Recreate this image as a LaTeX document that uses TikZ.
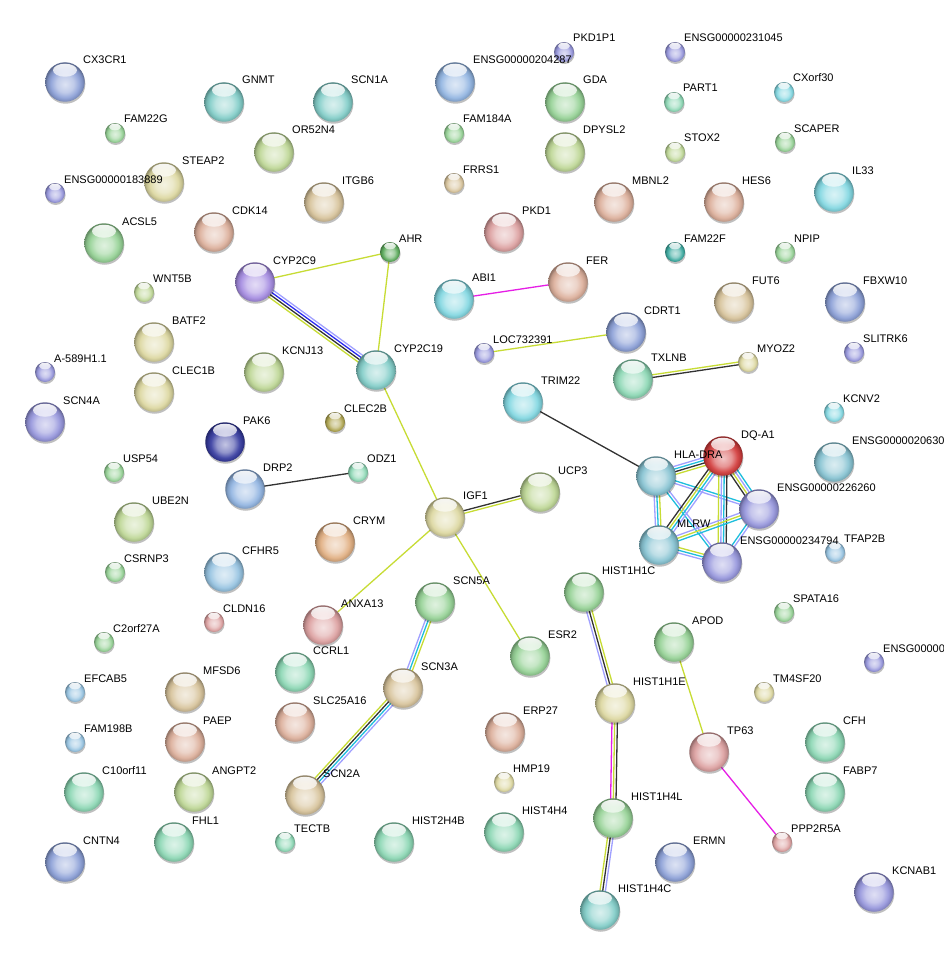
\documentclass[tikz,border=0pt]{standalone}
\usepackage{fontspec}
\setmainfont{Liberation Sans}
\usetikzlibrary{calc,shadows,fadings}
\pgfdeclarelayer{bottom}
\pgfdeclarelayer{background}
\pgfdeclarelayer{labels}
\pgfsetlayers{bottom,background,main,labels}
\makeatletter
\pgfdeclareradialshading[tikz@ball]{sball}{\pgfpoint{0bp}{-3bp}}{%
 color(0bp)=(tikz@ball!30!white); color(11bp)=(tikz@ball!55!white);
 color(18bp)=(tikz@ball!92!white); color(22.5bp)=(tikz@ball!88!black);
 color(25bp)=(tikz@ball!68!black); color(50bp)=(tikz@ball!68!black)}
\makeatother
\tikzfading[name=hlfade, top color=transparent!5, bottom color=transparent!100]
% node colours
\definecolor{cblue}{RGB}{140,160,215}
\definecolor{cblue2}{RGB}{145,180,225}
\definecolor{cteal}{RGB}{130,205,200}
\definecolor{ccyan}{RGB}{130,215,225}
\definecolor{csteel}{RGB}{135,195,210}
\definecolor{cpb}{RGB}{150,150,220}
\definecolor{cpurple}{RGB}{165,140,225}
\definecolor{cnavy}{RGB}{55,60,160}
\definecolor{cgreen}{RGB}{150,210,150}
\definecolor{cmint}{RGB}{140,215,180}
\definecolor{cyg}{RGB}{190,215,150}
\definecolor{cyel}{RGB}{220,215,160}
\definecolor{colive}{RGB}{175,165,80}
\definecolor{ctan}{RGB}{215,195,155}
\definecolor{csalmon}{RGB}{220,175,155}
\definecolor{corange}{RGB}{225,175,130}
\definecolor{cpink}{RGB}{220,160,160}
\definecolor{cred}{RGB}{210,60,60}
\definecolor{cdteal}{RGB}{60,170,160}
\definecolor{csky}{RGB}{150,195,225}
\definecolor{cdgreen}{RGB}{90,170,90}
% edge colours
\definecolor{ctm}{RGB}{199,220,52}
\definecolor{ccoexp}{RGB}{50,50,50}
\definecolor{cdb}{RGB}{30,190,220}
\definecolor{chom}{RGB}{160,160,255}
\definecolor{ccooc}{RGB}{40,40,240}
\definecolor{cexp}{RGB}{230,30,230}
\tikzset{
 sphere/.style={circle, inner sep=0pt, draw=none,
   drop shadow={shadow xshift=0.6pt, shadow yshift=-2pt, opacity=0.25, fill=black}},
 bigsphere/.style={sphere, minimum size=39.5pt, ball color=#1, shading=sball,
   path picture={\fill[white, path fading=hlfade] ([yshift=-8pt]path picture bounding box.north) ellipse [x radius=12pt, y radius=6.5pt];}},
 smallsphere/.style={sphere, minimum size=20pt, ball color=#1, shading=sball,
   path picture={\fill[white, path fading=hlfade] ([yshift=-4pt]path picture bounding box.north) ellipse [x radius=6pt, y radius=3.3pt];}},
 lbl/.style={anchor=base west, inner sep=0pt, font=\fontsize{11}{13}\selectfont, text=black},
 etm/.style={draw=ctm, line width=1.3pt},
 ecoexp/.style={draw=ccoexp, line width=1.3pt},
 edb/.style={draw=cdb, line width=1.3pt},
 ehom/.style={draw=chom, line width=1.3pt},
 ecooc/.style={draw=ccooc, line width=1.3pt},
 eexp/.style={draw=cexp, line width=1.3pt},
}
\newcommand\BNode[5]{%
  \node[bigsphere=#4] (#1) at (#2,#3) {};
  \begin{pgfonlayer}{labels}\node[lbl] (#1l) at ($(#1)+(18,-18)$) {#5};\end{pgfonlayer}}
\newcommand\SNode[5]{%
  \node[smallsphere=#4] (#1) at (#2,#3) {};
  \begin{pgfonlayer}{labels}\node[lbl] (#1l) at ($(#1)+(9,-10)$) {#5};\end{pgfonlayer}}
\newcommand\MEdge[3]{%
  \foreach \cc [count=\nn] in {#3} {\xdef\mytot{\nn}}%
  \foreach \cc [count=\ii] in {#3} {%
    \pgfmathsetmacro\oo{(\ii-(\mytot+1)/2)*2.7}%
    \draw[\cc] ($(#1)!\oo pt!90:(#2)$) -- ($(#2)!\oo pt!-90:(#1)$);
  }}
\begin{document}
\begin{tikzpicture}[x=1pt,y=-1pt]
\begin{pgfonlayer}{bottom}
\fill[white] (0,0) rectangle (944,955);
\end{pgfonlayer}
\useasboundingbox (0,0) rectangle (944,955);
% large nodes
\BNode{CXCR}{65}{82}{cblue}{CX3CR1}
\BNode{GNMT}{224}{102}{cteal}{GNMT}
\BNode{SCNoneA}{333}{102}{cteal}{SCN1A}
\BNode{Etwozero}{455}{82}{cblue2}{ENSG00000204287}
\BNode{ORfive}{274}{152}{cyg}{OR52N4}
\BNode{GDA}{565}{102}{cgreen}{GDA}
\BNode{DPYSL}{565}{152}{cyg}{DPYSL2}
\BNode{STEAP}{164}{182}{cyel}{STEAP2}
\BNode{MBNL}{614}{202}{csalmon}{MBNL2}
\BNode{HES}{724}{202}{csalmon}{HES6}
\BNode{IL}{834}{192}{ccyan}{IL33}
\BNode{ITGB}{324}{202}{ctan}{ITGB6}
\BNode{CDK}{214}{232}{csalmon}{CDK14}
\BNode{ACSL}{104}{243}{cgreen}{ACSL5}
\BNode{PKDone}{504}{232}{cpink}{PKD1}
\BNode{CYPnine}{255}{282}{cpurple}{CYP2C9}
\BNode{ABI}{454}{299}{ccyan}{ABI1}
\BNode{FER}{568}{282}{csalmon}{FER}
\BNode{FUT}{734}{302}{ctan}{FUT6}
\BNode{FBXW}{845}{302}{cblue}{FBXW10}
\BNode{CDRT}{626}{332}{cblue}{CDRT1}
\BNode{BATF}{154}{342}{cyel}{BATF2}
\BNode{KCNJ}{264}{372}{cyg}{KCNJ13}
\BNode{CYPnt}{376}{370}{cteal}{CYP2C19}
\BNode{TXLNB}{633}{379}{cmint}{TXLNB}
\BNode{CLEConeB}{154}{392}{cyel}{CLEC1B}
\BNode{SCNfourA}{45}{422}{cpb}{SCN4A}
\BNode{TRIM}{523}{402}{ccyan}{TRIM22}
\BNode{PAK}{225}{442}{cnavy}{PAK6}
\BNode{DQA}{723}{456}{cred}{DQ-A1}
\BNode{HLA}{656}{476}{csteel}{HLA-DRA}
\BNode{Etwosix}{834}{462}{csteel}{ENSG0000020630}
\BNode{DRP}{245}{489}{cblue2}{DRP2}
\BNode{UCP}{540}{492}{cyg}{UCP3}
\BNode{IGF}{445}{517}{cyel}{IGF1}
\BNode{Etwotwo}{759}{509}{cpb}{ENSG00000226260}
\BNode{UBE}{134}{522}{cyg}{UBE2N}
\BNode{CRYM}{335}{542}{corange}{CRYM}
\BNode{MLRW}{659}{545}{csteel}{MLRW}
\BNode{Etwothree}{722}{562}{cpb}{ENSG00000234794}
\BNode{CFHR}{224}{572}{csky}{CFHR5}
\BNode{SCNfiveA}{435}{602}{cgreen}{SCN5A}
\BNode{HoneC}{584}{592}{cgreen}{HIST1H1C}
\BNode{ANXA}{323}{625}{cpink}{ANXA13}
\BNode{ESR}{530}{656}{cgreen}{ESR2}
\BNode{APOD}{674}{642}{cgreen}{APOD}
\BNode{CCRL}{295}{672}{cmint}{CCRL1}
\BNode{MFSD}{185}{692}{ctan}{MFSD6}
\BNode{SCNthreeA}{403}{688}{ctan}{SCN3A}
\BNode{HoneE}{615}{703}{cyel}{HIST1H1E}
\BNode{SLC}{295}{722}{csalmon}{SLC25A16}
\BNode{PAEP}{185}{742}{csalmon}{PAEP}
\BNode{ERP}{505}{732}{csalmon}{ERP27}
\BNode{TP}{709}{752}{cpink}{TP63}
\BNode{CFH}{825}{742}{cmint}{CFH}
\BNode{Cten}{84}{792}{cmint}{C10orf11}
\BNode{ANGPT}{194}{792}{cyg}{ANGPT2}
\BNode{SCNtwoA}{305}{795}{ctan}{SCN2A}
\BNode{FABP}{825}{792}{cmint}{FABP7}
\BNode{HfourL}{613}{818}{cgreen}{HIST1H4L}
\BNode{FHL}{174}{842}{cmint}{FHL1}
\BNode{HtwoB}{394}{842}{cmint}{HIST2H4B}
\BNode{HfourH}{504}{832}{cmint}{HIST4H4}
\BNode{CNTN}{65}{862}{cblue}{CNTN4}
\BNode{ERMN}{675}{862}{cblue}{ERMN}
\BNode{KCNAB}{874}{892}{cpb}{KCNAB1}
\BNode{HfourC}{600}{910}{cteal}{HIST1H4C}
% small nodes
\SNode{PKDP}{564}{52}{cpb}{PKD1P1}
\SNode{Etwothreeone}{675}{52}{cpb}{ENSG00000231045}
\SNode{FAMtwoG}{115}{133}{cgreen}{FAM22G}
\SNode{PART}{674}{102}{cmint}{PART1}
\SNode{CXorf}{784}{92}{ccyan}{CXorf30}
\SNode{FAMoneA}{454}{133}{cgreen}{FAM184A}
\SNode{STOX}{675}{152}{cyg}{STOX2}
\SNode{SCAPER}{785}{142}{cgreen}{SCAPER}
\SNode{Eoneeight}{55}{193}{cpb}{ENSG00000183889}
\SNode{FRRS}{454}{183}{ctan}{FRRS1}
\SNode{AHR}{390}{252}{cdgreen}{AHR}
\SNode{FAMtwoF}{675}{252}{cdteal}{FAM22F}
\SNode{NPIP}{785}{252}{cgreen}{NPIP}
\SNode{WNT}{144}{292}{cyg}{WNT5B}
\SNode{LOC}{484}{353}{cpb}{LOC732391}
\SNode{SLITRK}{854}{352}{cpb}{SLITRK6}
\SNode{Afive}{45}{372}{cpb}{A-589H1.1}
\SNode{MYOZ}{748}{362}{cyel}{MYOZ2}
\SNode{CLECtwoB}{335}{422}{colive}{CLEC2B}
\SNode{KCNV}{834}{412}{ccyan}{KCNV2}
\SNode{USP}{114}{472}{cgreen}{USP54}
\SNode{ODZ}{358}{472}{cmint}{ODZ1}
\SNode{TFAP}{835}{552}{csky}{TFAP2B}
\SNode{CSRNP}{115}{572}{cgreen}{CSRNP3}
\SNode{SPATA}{784}{612}{cgreen}{SPATA16}
\SNode{CLDN}{214}{622}{cpink}{CLDN16}
\SNode{Ctwo}{104}{642}{cgreen}{C2orf27A}
\SNode{Ecut}{874}{662}{cpb}{ENSG00000}
\SNode{EFCAB}{75}{692}{csky}{EFCAB5}
\SNode{TMfour}{764}{692}{cyel}{TM4SF20}
\SNode{FAMoneB}{75}{742}{csky}{FAM198B}
\SNode{HMP}{504}{782}{cyel}{HMP19}
\SNode{TECTB}{285}{842}{cmint}{TECTB}
\SNode{PPP}{782}{842}{cpink}{PPP2R5A}
% edges
\begin{pgfonlayer}{background}
\MEdge{CYPnine}{CYPnt}{etm,ecoexp,ecooc,ehom}
\MEdge{AHR}{CYPnine}{etm}
\MEdge{AHR}{CYPnt}{etm}
\MEdge{CYPnt}{IGF}{etm}
\MEdge{IGF}{UCP}{etm,ecoexp}
\MEdge{IGF}{ANXA}{etm}
\MEdge{IGF}{ESR}{etm}
\MEdge{DRP}{ODZ}{ecoexp}
\MEdge{ABI}{FER}{eexp}
\MEdge{LOC}{CDRT}{etm}
\MEdge{TXLNB}{MYOZ}{ecoexp,etm}
\MEdge{TRIM}{HLA}{ecoexp}
\MEdge{SCNfiveA}{SCNthreeA}{ehom,edb,etm}
\MEdge{SCNthreeA}{SCNtwoA}{etm,ecoexp,edb,ehom}
\MEdge{HoneC}{HoneE}{ehom,ecoexp,etm}
\MEdge{HoneE}{HfourL}{eexp,etm,ecoexp}
\MEdge{HfourL}{HfourC}{etm,ecoexp,ehom}
\MEdge{APOD}{TP}{etm}
\MEdge{TP}{PPP}{eexp}
\MEdge{HLA}{DQA}{etm,ecoexp,edb,ehom}
\MEdge{HLA}{Etwotwo}{ehom,edb}
\MEdge{HLA}{MLRW}{ehom,edb,etm}
\MEdge{HLA}{Etwothree}{edb,ehom}
\MEdge{DQA}{MLRW}{ecoexp,etm,edb,ehom}
\MEdge{DQA}{Etwotwo}{ecoexp,etm,ehom,edb}
\MEdge{DQA}{Etwothree}{etm,ehom,edb,ecoexp}
\MEdge{Etwotwo}{MLRW}{ehom,etm,edb}
\MEdge{Etwotwo}{Etwothree}{edb,ehom}
\MEdge{MLRW}{Etwothree}{ehom,edb,etm}
\end{pgfonlayer}
\end{tikzpicture}
\end{document}
